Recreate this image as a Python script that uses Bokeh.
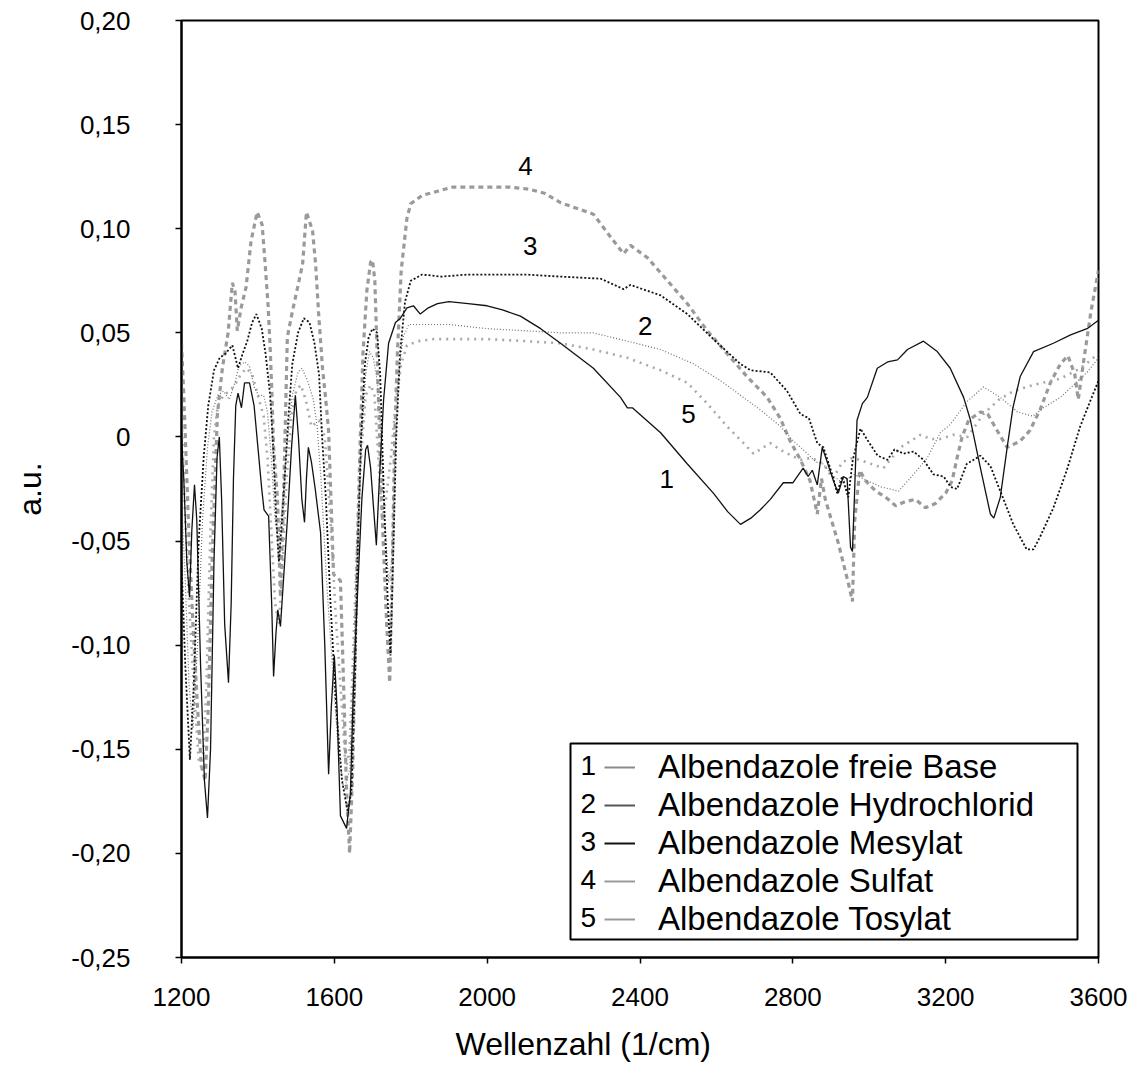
from bokeh.plotting import figure
from bokeh.models import FixedTicker, Legend, LegendItem, Label, BoxAnnotation, Title
from bokeh.embed import file_html
from bokeh.resources import INLINE

FONT = "Liberation Sans"

# ---------------- data ----------------
series_names = ["Albendazole freie Base", "Albendazole Hydrochlorid",
                "Albendazole Mesylat", "Albendazole Sulfat", "Albendazole Tosylat"]
series_numbers = ["1", "2", "3", "4", "5"]

wn1 = [1200,1206,1214,1221,1227,1234,1240,1250,1260,1268,
       1276,1285,1293,1299,1305,1313,1323,1330,1336,1342,
       1348,1357,1365,1378,1390,1400,1410,1416,1428,1436,
       1441,1447,1452,1459,1470,1477,1488,1498,1506,1515,
       1522,1527,1532,1540,1550,1564,1575,1585,1592,1600,
       1607,1616,1632,1642,1650,1661,1672,1682,1687,1695,
       1703,1710,1718,1729,1742,1760,1773,1790,1807,1825,
       1846,1870,1900,1950,2000,2040,2087,2140,2192,2278,
       2349,2367,2380,2454,2524,2592,2630,2663,2690,2715,
       2741,2775,2800,2827,2840,2851,2864,2877,2890,2906,
       2919,2932,2942,2951,2956,2961,2968,2982,2995,3021,
       3048,3074,3100,3142,3178,3212,3247,3265,3291,3317,
       3326,3343,3361,3376,3395,3430,3482,3527,3570,3600]
ab1 = [0.000,-0.020,-0.060,-0.077,-0.045,-0.023,-0.040,-0.110,-0.165,-0.183,
       -0.150,-0.060,-0.010,0.000,-0.030,-0.090,-0.118,-0.080,-0.020,0.015,
       0.021,0.014,0.026,0.026,0.015,-0.005,-0.025,-0.035,-0.038,-0.080,
       -0.115,-0.095,-0.083,-0.091,-0.060,-0.040,-0.005,0.020,0.000,-0.030,
       -0.041,-0.020,-0.005,-0.012,-0.025,-0.046,-0.100,-0.162,-0.130,-0.105,
       -0.130,-0.182,-0.188,-0.171,-0.120,-0.074,-0.030,-0.006,-0.004,-0.015,
       -0.035,-0.052,-0.020,0.018,0.045,0.055,0.057,0.062,0.063,0.059,
       0.062,0.064,0.065,0.064,0.063,0.061,0.058,0.052,0.045,0.033,
       0.019,0.014,0.014,0.002,-0.013,-0.027,-0.036,-0.042,-0.039,-0.035,
       -0.030,-0.022,-0.022,-0.015,-0.019,-0.016,-0.023,-0.005,-0.012,-0.021,
       -0.027,-0.019,-0.020,-0.053,-0.055,-0.030,0.008,0.016,0.019,0.033,
       0.036,0.037,0.042,0.046,0.041,0.033,0.019,0.008,-0.015,-0.037,
       -0.039,-0.029,-0.005,0.014,0.029,0.041,0.045,0.049,0.052,0.056]

wn2 = [1200,1210,1220,1230,1242,1255,1268,1280,1295,1310,
       1325,1340,1350,1365,1378,1390,1402,1415,1425,1435,
       1445,1455,1465,1478,1490,1505,1515,1530,1545,1555,
       1565,1580,1595,1610,1625,1640,1652,1662,1672,1682,
       1692,1702,1712,1722,1732,1742,1750,1758,1768,1780,
       1795,1850,1900,1950,2000,2100,2192,2278,2367,2454,
       2541,2611,2663,2715,2768,2802,2838,2860,2880,2900,
       2930,2960,2995,3031,3077,3116,3152,3186,3212,3256,
       3299,3343,3388,3428,3456,3500,3535,3570,3600]
ab2 = [-0.030,-0.070,-0.120,-0.140,-0.100,-0.040,-0.005,0.012,0.020,0.022,
       0.018,0.026,0.034,0.036,0.034,0.024,0.020,0.020,0.012,-0.010,
       -0.040,-0.050,-0.030,0.000,0.020,0.031,0.033,0.027,0.018,0.005,
       -0.020,-0.070,-0.110,-0.150,-0.170,-0.160,-0.100,-0.040,0.000,0.030,
       0.041,0.038,0.027,0.000,-0.040,-0.070,-0.060,-0.010,0.030,0.048,
       0.054,0.054,0.054,0.053,0.052,0.051,0.050,0.050,0.046,0.042,
       0.035,0.027,0.020,0.013,0.005,-0.002,-0.008,-0.012,-0.013,-0.018,
       -0.022,-0.018,-0.021,-0.024,-0.026,-0.018,-0.010,0.002,0.006,0.017,
       0.024,0.019,0.012,0.010,0.014,0.019,0.025,0.031,0.038]

wn3 = [1200,1210,1222,1232,1245,1258,1270,1285,1300,1315,
       1333,1348,1360,1372,1385,1396,1410,1420,1432,1440,
       1448,1455,1463,1470,1480,1490,1505,1520,1535,1548,
       1560,1568,1578,1590,1605,1620,1635,1645,1655,1662,
       1670,1680,1690,1700,1712,1720,1730,1740,1747,1755,
       1762,1772,1785,1800,1830,1880,1950,2030,2100,2192,
       2297,2357,2375,2454,2524,2592,2663,2690,2741,2785,
       2820,2842,2864,2880,2903,2916,2929,2945,2957,2977,
       2997,3022,3048,3066,3090,3116,3142,3168,3195,3213,
       3230,3255,3291,3317,3343,3377,3412,3430,3447,3482,
       3517,3552,3580,3600]
ab3 = [-0.060,-0.110,-0.155,-0.120,-0.050,-0.010,0.015,0.032,0.038,0.040,
       0.044,0.033,0.040,0.046,0.055,0.059,0.052,0.040,0.020,-0.005,
       -0.040,-0.060,-0.040,-0.020,0.010,0.035,0.050,0.057,0.055,0.045,
       0.030,0.000,-0.030,-0.080,-0.130,-0.165,-0.180,-0.170,-0.110,-0.050,
       0.000,0.035,0.048,0.052,0.050,0.030,-0.030,-0.080,-0.105,-0.050,
       0.000,0.040,0.065,0.075,0.078,0.077,0.078,0.078,0.078,0.077,
       0.076,0.071,0.073,0.068,0.059,0.047,0.035,0.032,0.031,0.022,
       0.011,0.009,-0.003,-0.005,-0.018,-0.027,-0.019,-0.029,-0.011,0.004,
       -0.002,-0.009,-0.011,-0.006,-0.008,-0.007,-0.011,-0.018,-0.019,-0.024,
       -0.025,-0.013,-0.009,-0.014,-0.026,-0.042,-0.054,-0.054,-0.048,-0.034,
       -0.016,0.005,0.018,0.027]

wn4 = [1200,1206,1212,1220,1230,1242,1252,1262,1270,1280,
       1294,1307,1322,1333,1340,1346,1356,1369,1382,1398,
       1411,1419,1427,1432,1437,1441,1451,1459,1467,1477,
       1490,1504,1517,1527,1543,1551,1559,1569,1577,1585,
       1598,1616,1624,1632,1640,1648,1655,1662,1668,1675,
       1685,1695,1700,1706,1712,1720,1728,1737,1745,1752,
       1758,1765,1775,1790,1800,1830,1870,1910,1960,2010,
       2060,2110,2150,2192,2278,2323,2357,2375,2420,2472,
       2524,2576,2628,2680,2733,2767,2793,2820,2845,2864,
       2875,2885,2919,2945,2956,2962,2975,2990,3017,3043,
       3069,3095,3121,3147,3173,3200,3217,3230,3243,3260,
       3291,3310,3335,3361,3395,3420,3447,3474,3500,3520,
       3538,3547,3560,3580,3600]
ab4 = [0.045,0.020,-0.010,-0.050,-0.090,-0.130,-0.158,-0.165,-0.130,-0.060,
       0.011,0.033,0.050,0.074,0.070,0.051,0.062,0.072,0.094,0.108,
       0.102,0.083,0.062,0.043,0.019,-0.005,-0.029,-0.077,-0.030,0.048,
       0.060,0.072,0.083,0.108,0.099,0.083,0.059,0.033,0.019,0.003,
       -0.066,-0.069,-0.117,-0.170,-0.200,-0.160,-0.100,-0.040,0.000,0.040,
       0.070,0.084,0.085,0.075,0.040,-0.010,-0.050,-0.090,-0.118,-0.060,
       0.000,0.040,0.080,0.105,0.112,0.116,0.118,0.120,0.120,0.120,
       0.120,0.119,0.117,0.1125,0.107,0.096,0.088,0.092,0.086,0.075,
       0.064,0.051,0.040,0.029,0.019,0.009,-0.002,-0.011,-0.021,-0.037,
       -0.020,-0.030,-0.051,-0.070,-0.079,-0.040,-0.016,-0.021,-0.026,-0.029,
       -0.033,-0.031,-0.030,-0.034,-0.032,-0.027,-0.021,-0.010,0.000,0.008,
       0.012,0.011,0.003,-0.005,-0.002,0.003,0.013,0.026,0.035,0.039,
       0.030,0.018,0.035,0.060,0.080]

wn5 = [1200,1210,1220,1232,1245,1255,1265,1275,1285,1295,
       1310,1325,1340,1355,1370,1385,1400,1415,1425,1435,
       1445,1455,1465,1475,1488,1500,1512,1525,1540,1560,
       1575,1590,1605,1620,1630,1640,1650,1660,1670,1682,
       1695,1705,1715,1725,1735,1748,1760,1775,1790,1820,
       1860,1900,1950,2000,2100,2192,2278,2367,2454,2524,
       2576,2628,2671,2697,2741,2775,2820,2850,2880,2905,
       2930,2958,2990,3037,3082,3108,3134,3160,3186,3220,
       3257,3299,3340,3377,3430,3500,3553,3600]
ab5 = [0.010,-0.040,-0.080,-0.120,-0.155,-0.160,-0.120,-0.050,0.000,0.015,
       0.020,0.022,0.025,0.030,0.033,0.030,0.020,0.010,-0.010,-0.045,
       -0.080,-0.090,-0.060,-0.020,0.010,0.022,0.025,0.018,0.005,0.008,
       0.000,-0.040,-0.090,-0.130,-0.160,-0.150,-0.100,-0.050,-0.010,0.020,
       0.025,0.020,-0.010,-0.040,-0.030,-0.010,0.015,0.035,0.044,0.046,
       0.047,0.047,0.047,0.047,0.046,0.045,0.042,0.038,0.032,0.026,
       0.016,0.005,-0.003,-0.008,-0.003,-0.007,-0.011,-0.010,-0.013,-0.020,
       -0.012,-0.010,-0.012,-0.015,-0.005,-0.002,0.001,-0.001,-0.001,0.001,
       0.000,0.011,0.018,0.022,0.025,0.028,0.033,0.040]

x_ticks = [1200, 1600, 2000, 2400, 2800, 3200, 3600]
y_ticks = [-0.25, -0.2, -0.15, -0.1, -0.05, 0, 0.05, 0.1, 0.15, 0.2]
y_tick_labels = ["-0,25", "-0,20", "-0,15", "-0,10", "-0,05", "0",
                 "0,05", "0,10", "0,15", "0,20"]

# curve number labels (data coordinates)
tag_x = [2470, 2414, 2113, 2100, 2527]
tag_y = [-0.020, 0.0535, 0.0919, 0.1303, 0.0112]

# ---------------- figure ----------------
p = figure(frame_width=917, frame_height=937,
           x_range=(1200, 3600), y_range=(-0.25, 0.20),
           output_backend="svg", toolbar_location=None,
           min_border_left=181, min_border_top=20,
           min_border_right=30, min_border_bottom=120,
           background_fill_color="white", border_fill_color="white")

p.xgrid.visible = False
p.ygrid.visible = False
p.outline_line_color = "black"
p.outline_line_width = 2
p.outline_line_alpha = 1

p.xaxis.ticker = FixedTicker(ticks=x_ticks)
p.yaxis.ticker = FixedTicker(ticks=y_ticks)
p.yaxis.major_label_overrides = {t: s for t, s in zip(y_ticks, y_tick_labels)}

for ax in (p.xaxis[0], p.yaxis[0]):
    ax.axis_line_width = 2
    ax.axis_line_color = "black"
    ax.major_tick_line_width = 1.5
    ax.major_tick_line_color = "black"
    ax.major_tick_in = 0
    ax.major_tick_out = 6
    ax.minor_tick_in = 0
    ax.minor_tick_out = 0
    ax.major_label_text_font = FONT
    ax.major_label_text_font_size = "26px"
    ax.major_label_text_color = "black"
    ax.axis_label_text_font = FONT
    ax.axis_label_text_font_size = "32px"
    ax.axis_label_text_font_style = "normal"
    ax.axis_label_text_color = "black"

p.yaxis.axis_label = "a.u."
p.xaxis.major_label_standoff = 24
p.yaxis.major_label_standoff = 45
p.yaxis.axis_label_standoff = 20

# x-axis title, placed left of centre as in the reference
xtitle = Title(text="Wellenzahl (1/cm)", align="left", offset=274, standoff=31,
               text_font=FONT, text_font_size="32px", text_font_style="normal",
               text_color="black")
p.add_layout(xtitle, "below")

# draw order: gray first, black on top
p.line(wn4, ab4, line_color="#9a9a9a", line_width=3.2, line_dash="5 4")
p.line(wn5, ab5, line_color="#a8a8a8", line_width=2.6, line_dash="2 5")
p.line(wn2, ab2, line_color="#6e6e6e", line_width=1.2, line_dash="1 2")
p.line(wn3, ab3, line_color="#111111", line_width=1.8, line_dash="2 2")
p.line(wn1, ab1, line_color="#111111", line_width=1.3)

for t, x, y in zip(series_numbers, tag_x, tag_y):
    p.add_layout(Label(x=x, y=y, text=t, text_font=FONT, text_font_size="26px",
                       text_align="center", text_baseline="middle", text_color="black"))

# legend box
box = BoxAnnotation(left=389, right=896, bottom=18, top=214,
                    left_units="screen", right_units="screen",
                    bottom_units="screen", top_units="screen",
                    fill_color="white", fill_alpha=1.0,
                    line_color="black", line_width=2, line_alpha=1.0)
p.add_layout(box)

nan = float("nan")
legend_colors = ["#8a8a8a", "#555555", "#111111", "#9a9a9a", "#9a9a9a"]
items = []
for name, col in zip(series_names, legend_colors):
    r = p.line(x=[nan, nan], y=[nan, nan], line_color=col, line_width=2)
    items.append(LegendItem(label=name, renderers=[r]))

legend = Legend(items=items, location=(423, 19), orientation="vertical",
                padding=0, spacing=0, margin=0,
                glyph_width=31, glyph_height=38, label_height=38,
                label_standoff=23, label_text_font=FONT,
                label_text_font_size="33px", label_text_color="black",
                border_line_alpha=0, background_fill_alpha=0)
p.add_layout(legend, "center")

row_y = [192, 154, 116, 78, 40]
for t, ry in zip(series_numbers, row_y):
    p.add_layout(Label(x=399, y=ry, x_units="screen", y_units="screen", text=t,
                       text_font=FONT, text_font_size="28px",
                       text_align="left", text_baseline="middle", text_color="black"))

open("out.html", "w").write(file_html(p, INLINE))
